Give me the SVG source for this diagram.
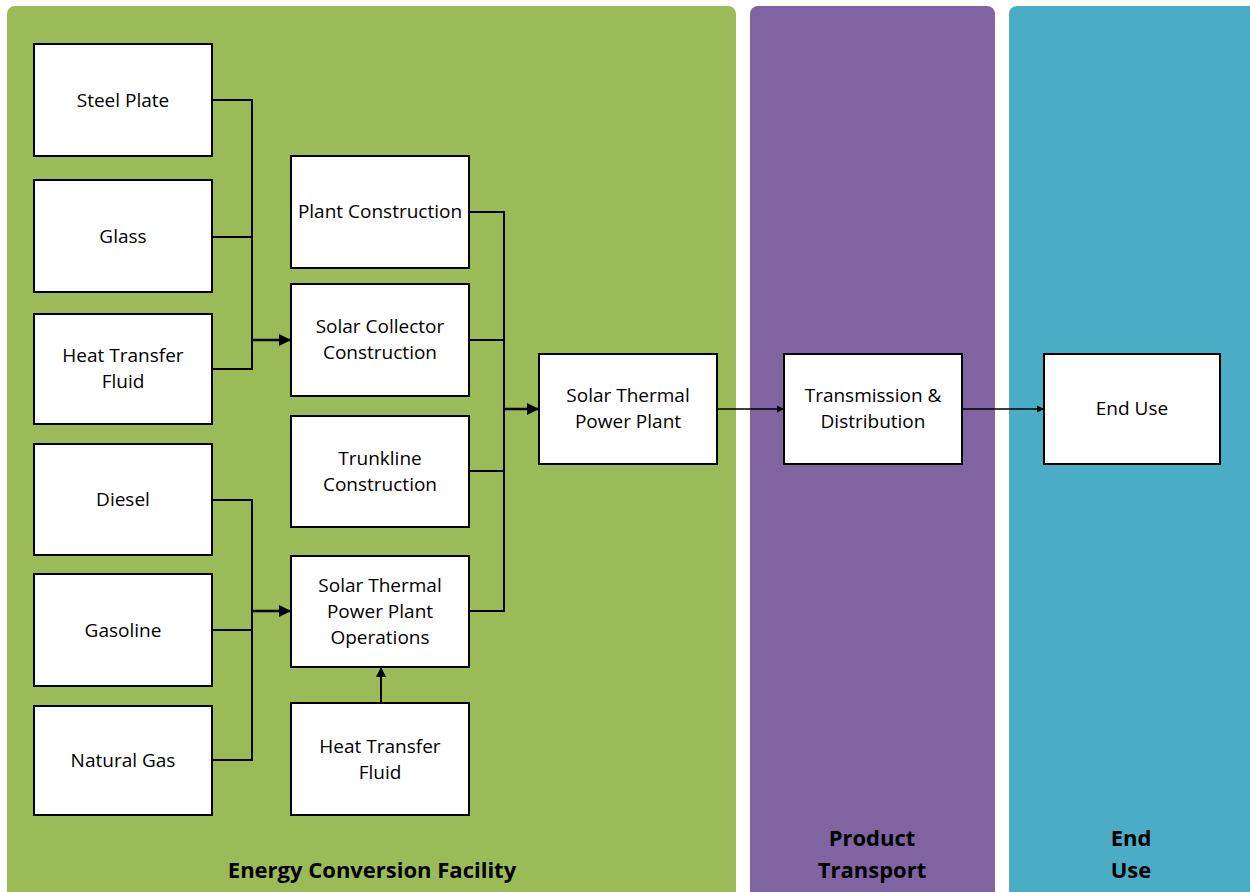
<svg xmlns="http://www.w3.org/2000/svg" width="1250" height="892" viewBox="0 0 1250 892">
<style>
.node rect{fill:#ffffff;stroke:#000000;stroke-width:2}
.node text,.lbl{font-family:"Open Sans","Liberation Sans",sans-serif;font-size:19px;fill:#000;text-anchor:middle}
.lbl{font-weight:bold;font-size:22px}
.conn path{fill:none;stroke:#000;stroke-width:2}
.conn path.arr{marker-end:url(#ah)}
.conn path.thick{stroke-width:2.5}
</style>
<defs>
<marker id="ah" viewBox="0 0 10 10" refX="10" refY="5" markerWidth="5" markerHeight="5" orient="auto" markerUnits="strokeWidth">
<path d="M0,0 L10,5 L0,10 z" fill="#000"/>
</marker>
</defs>
<rect width="1250" height="892" fill="#ffffff"/>
<g id="lanes">
<rect x="7" y="6" width="729" height="900" rx="8" fill="#9bbb59"/>
<rect x="750" y="6" width="245" height="900" rx="8" fill="#8064a2"/>
<rect x="1009" y="6" width="260" height="900" rx="8" fill="#4bacc6"/>
<text class="lbl" x="372" y="878">Energy Conversion Facility</text>
<text class="lbl" x="872" y="846">Product</text>
<text class="lbl" x="872" y="878">Transport</text>
<text class="lbl" x="1131" y="846">End</text>
<text class="lbl" x="1131" y="878">Use</text>
</g>
<g class="conn" id="connectors">
<path d="M212,100 H252 V369 H212 M212,237 H252"/>
<path class="arr thick" d="M252,340 H291"/>
<path d="M212,500 H252 V760 H212 M212,630 H252"/>
<path class="arr thick" d="M252,611 H291"/>
<path d="M469,212 H504 V611 H469 M469,340 H504 M469,471 H504"/>
<path class="arr thick" d="M504,409 H539"/>
<path class="arr" d="M381,703 V667"/>
<path class="arr" d="M717,409 H784" style="stroke-width:1.5"/>
<path class="arr" d="M962,409 H1044" style="stroke-width:1.5"/>
</g>
<g class="node" id="steel-plate"><rect x="34" y="44" width="178" height="112"/><text x="123" y="107">Steel Plate</text></g>
<g class="node" id="glass"><rect x="34" y="180" width="178" height="112"/><text x="123" y="243">Glass</text></g>
<g class="node" id="htf-1"><rect x="34" y="314" width="178" height="110"/><text x="123" y="362">Heat Transfer</text><text x="123" y="388">Fluid</text></g>
<g class="node" id="diesel"><rect x="34" y="444" width="178" height="111"/><text x="123" y="506">Diesel</text></g>
<g class="node" id="gasoline"><rect x="34" y="574" width="178" height="112"/><text x="123" y="637">Gasoline</text></g>
<g class="node" id="natural-gas"><rect x="34" y="706" width="178" height="109"/><text x="123" y="767">Natural Gas</text></g>
<g class="node" id="plant-construction"><rect x="291" y="156" width="178" height="112"/><text x="380" y="218">Plant Construction</text></g>
<g class="node" id="solar-collector"><rect x="291" y="284" width="178" height="112"/><text x="380" y="333">Solar Collector</text><text x="380" y="359">Construction</text></g>
<g class="node" id="trunkline"><rect x="291" y="416" width="178" height="111"/><text x="380" y="465">Trunkline</text><text x="380" y="491">Construction</text></g>
<g class="node" id="operations"><rect x="291" y="556" width="178" height="111"/><text x="380" y="592">Solar Thermal</text><text x="380" y="618">Power Plant</text><text x="380" y="644">Operations</text></g>
<g class="node" id="htf-2"><rect x="291" y="703" width="178" height="112"/><text x="380" y="753">Heat Transfer</text><text x="380" y="779">Fluid</text></g>
<g class="node" id="power-plant"><rect x="539" y="354" width="178" height="110"/><text x="628" y="402">Solar Thermal</text><text x="628" y="428">Power Plant</text></g>
<g class="node" id="transmission"><rect x="784" y="354" width="178" height="110"/><text x="873" y="402">Transmission &amp;</text><text x="873" y="428">Distribution</text></g>
<g class="node" id="end-use"><rect x="1044" y="354" width="176" height="110"/><text x="1132" y="415">End Use</text></g>
</svg>
